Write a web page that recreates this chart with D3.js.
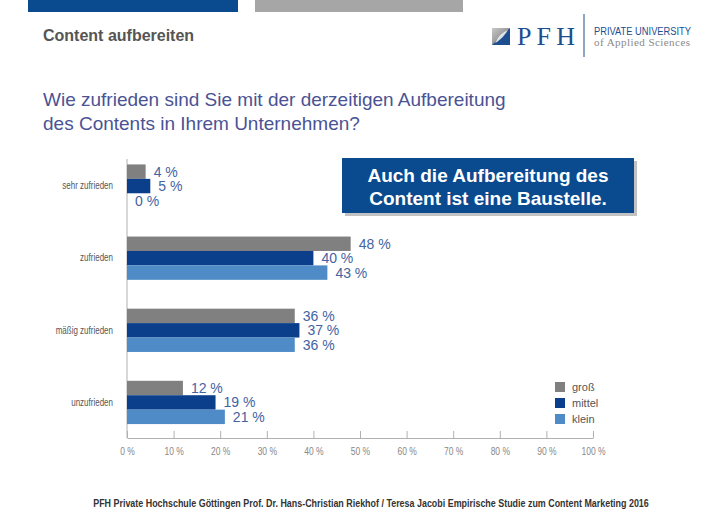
<!DOCTYPE html>
<html>
<head>
<meta charset="utf-8">
<script src="https://cdn.jsdelivr.net/npm/d3@7"></script>
<style>
  body { margin: 0; background: #fff; }
  svg { display: block; font-family: "Liberation Sans", Arial, sans-serif; }
</style>
</head>
<body>
<svg width="705" height="528"></svg>
<script>
// Daten
var categories = ["sehr zufrieden", "zufrieden", "mäßig zufrieden", "unzufrieden"];
var seriesNames = ["groß", "mittel", "klein"];
var gross  = [4, 48, 36, 12];
var mittel = [5, 40, 37, 19];
var klein  = [0, 43, 36, 21];
var tickValues = [0, 10, 20, 30, 40, 50, 60, 70, 80, 90, 100];

var colors = ["#808080", "#0b3f8c", "#4f8bc6"];
var series = [gross, mittel, klein];

var svg = d3.select("svg");

// Kopfleiste
svg.append("rect").attr("x", 28).attr("y", 0).attr("width", 210).attr("height", 12).attr("fill", "#0a4a8f");
svg.append("rect").attr("x", 255).attr("y", 0).attr("width", 208).attr("height", 12).attr("fill", "#a6a6a6");

svg.append("text").attr("x", 43).attr("y", 41)
    .attr("font-size", 16).attr("font-weight", "bold").attr("fill", "#555")
    .text("Content aufbereiten");

// Logo
var logo = svg.append("g");
var grad = svg.append("defs").append("linearGradient").attr("id", "lg")
    .attr("x1", "0").attr("y1", "0").attr("x2", "1").attr("y2", "1");
grad.append("stop").attr("offset", "0").attr("stop-color", "#c8c8c8");
grad.append("stop").attr("offset", "1").attr("stop-color", "#6f6f6f");
logo.append("rect").attr("x", 492).attr("y", 28).attr("width", 18).attr("height", 17).attr("fill", "url(#lg)");
logo.append("path").attr("d", "M492,45 L510,28 L510,45 Z").attr("fill", "#1d4e8f");
logo.append("path").attr("d", "M495,43 Q500,33 508,30 Q504,37 497,42 Z").attr("fill", "#fff").attr("opacity", 0.8);
logo.append("text").attr("x", 517).attr("y", 45)
    .attr("font-family", "'Liberation Serif', 'DejaVu Serif', serif")
    .attr("font-size", 26).attr("fill", "#1d4e8f")
    .attr("textLength", 58).attr("lengthAdjust", "spacing")
    .text("PFH");
logo.append("line").attr("x1", 584).attr("x2", 584).attr("y1", 14).attr("y2", 57)
    .attr("stroke", "#1d4e8f").attr("stroke-width", 1);
logo.append("text").attr("x", 594).attr("y", 35)
    .attr("font-size", 10).attr("fill", "#1d4e8f")
    .attr("textLength", 97).attr("lengthAdjust", "spacingAndGlyphs")
    .text("PRIVATE UNIVERSITY");
logo.append("text").attr("x", 594).attr("y", 46)
    .attr("font-family", "'Liberation Serif', 'DejaVu Serif', serif")
    .attr("font-size", 11).attr("fill", "#8a8a8a")
    .attr("textLength", 96).attr("lengthAdjust", "spacing")
    .text("of Applied Sciences");

// Frage
svg.append("text").attr("x", 43).attr("y", 106)
    .attr("font-size", 19).attr("fill", "#4a5394")
    .text("Wie zufrieden sind Sie mit der derzeitigen Aufbereitung");
svg.append("text").attr("x", 43).attr("y", 130)
    .attr("font-size", 19).attr("fill", "#4a5394")
    .text("des Contents in Ihrem Unternehmen?");

// Skalen
var x = d3.scaleLinear().domain([0, 100]).range([127, 593]);
var y0 = d3.scaleBand().domain(categories).range([150, 438.5]).paddingInner(0.4).paddingOuter(0.2);
var y1 = d3.scaleBand().domain(seriesNames).range([0, y0.bandwidth()]);

// Achsen
var xAxis = svg.append("g").attr("transform", "translate(0,438)")
    .call(d3.axisBottom(x).tickValues(tickValues).tickSizeInner(-7).tickSizeOuter(0)
        .tickPadding(10).tickFormat(function(d) { return d + " %"; }));
xAxis.select(".domain").attr("stroke", "#b0b0b0");
xAxis.selectAll(".tick line").attr("stroke", "#b0b0b0");
xAxis.selectAll(".tick text").attr("fill", "#888").attr("font-size", 10)
    .attr("transform", "scale(0.85,1)");

var yAxis = svg.append("g").attr("transform", "translate(127,0)")
    .call(d3.axisLeft(y0).tickSize(0).tickPadding(15));
yAxis.select(".domain").attr("stroke", "#b0b0b0").attr("d", "M0,159V438");
yAxis.selectAll(".tick text").attr("fill", "#555").attr("font-size", 10)
    .attr("x", -14 / 0.8).attr("transform", "scale(0.8,1)");

// Balken
var groups = svg.append("g").selectAll("g").data(categories).enter().append("g")
    .attr("transform", function(d) { return "translate(0," + y0(d) + ")"; });

seriesNames.forEach(function(s, si) {
    groups.append("rect")
        .attr("x", x(0))
        .attr("y", y1(s))
        .attr("width", function(d, i) { return x(series[si][i]) - x(0); })
        .attr("height", y1.bandwidth())
        .attr("fill", colors[si]);
    groups.append("text")
        .attr("x", function(d, i) { return x(series[si][i]) + 8; })
        .attr("y", y1(s) + y1.bandwidth() / 2)
        .attr("dy", "0.36em")
        .attr("font-size", 14).attr("fill", "#4463a3")
        .text(function(d, i) { return series[si][i] + " %"; });
});

// Legende
var legend = svg.append("g").selectAll("g").data(seriesNames).enter().append("g")
    .attr("transform", function(d, i) { return "translate(555," + (382 + i * 16) + ")"; });
legend.append("rect").attr("width", 10).attr("height", 10)
    .attr("fill", function(d, i) { return colors[i]; });
legend.append("text").attr("x", 17).attr("y", 5).attr("dy", "0.35em")
    .attr("font-size", 11).attr("fill", "#555")
    .text(function(d) { return d; });

// Hinweis-Box
svg.append("rect").attr("x", 345).attr("y", 161).attr("width", 292).attr("height", 55)
    .attr("fill", "#9a9a9a").attr("opacity", 0.6);
svg.append("rect").attr("x", 342).attr("y", 158).attr("width", 292).attr("height", 55)
    .attr("fill", "#0a4a8f");
svg.append("text").attr("x", 488).attr("y", 182).attr("text-anchor", "middle")
    .attr("font-size", 19).attr("font-weight", "bold").attr("fill", "#fff")
    .text("Auch die Aufbereitung des");
svg.append("text").attr("x", 488).attr("y", 205).attr("text-anchor", "middle")
    .attr("font-size", 19).attr("font-weight", "bold").attr("fill", "#fff")
    .text("Content ist eine Baustelle.");

// Fußzeile
var footer = svg.append("g");
var ft = footer.append("text").attr("x", 0).attr("y", 0).attr("text-anchor", "middle")
    .attr("font-size", 10).attr("font-weight", "bold").attr("fill", "#333")
    .text("PFH Private Hochschule Göttingen Prof. Dr. Hans-Christian Riekhof / Teresa Jacobi Empirische Studie zum Content Marketing  2016");
var fw = ft.node().getComputedTextLength();
var fs = Math.min(1, 556 / fw);
footer.attr("transform", "translate(371,507) scale(" + fs + ",1)");
</script>
</body>
</html>
